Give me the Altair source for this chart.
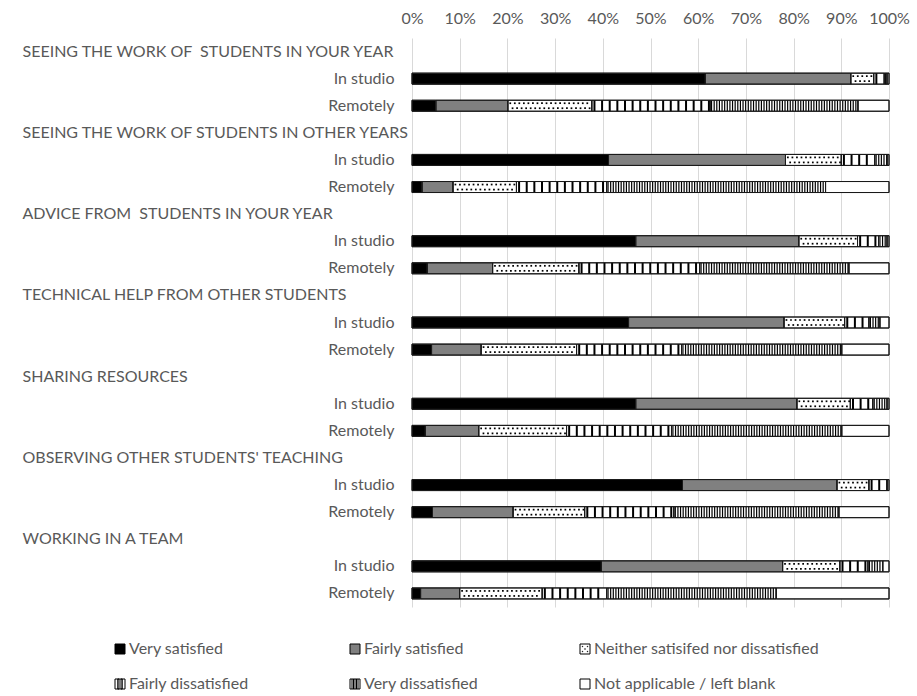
import altair as alt
import pandas as pd

groups = [
    "SEEING THE WORK OF  STUDENTS IN YOUR YEAR",
    "SEEING THE WORK OF STUDENTS IN OTHER YEARS",
    "ADVICE FROM  STUDENTS IN YOUR YEAR",
    "TECHNICAL HELP FROM OTHER STUDENTS",
    "SHARING RESOURCES",
    "OBSERVING OTHER STUDENTS' TEACHING",
    "WORKING IN A TEAM",
]
modes = ["In studio", "Remotely"]
levels = [
    "Very satisfied",
    "Fairly satisfied",
    "Neither satisifed nor dissatisfied",
    "Fairly dissatisfied",
    "Very dissatisfied",
    "Not applicable / left blank",
]
# one value per bar: group 1 In studio, group 1 Remotely, group 2 In studio, ...
very_satisfied = [61.5, 5.0, 41.2, 2.1, 46.9, 3.2, 45.4, 4.1, 46.9, 2.8, 56.7, 4.3, 39.7, 1.8]
fairly_satisfied = [30.5, 15.1, 37.1, 6.5, 34.2, 13.7, 32.6, 10.4, 33.8, 11.2, 32.4, 16.9, 38.0, 8.2]
neither = [4.8, 17.6, 11.7, 13.3, 12.3, 18.1, 12.7, 20.0, 11.2, 18.4, 6.7, 15.0, 12.0, 17.3]
fairly_dissatisfied = [2.2, 24.8, 7.0, 18.9, 4.4, 25.3, 5.1, 22.0, 4.7, 22.0, 3.8, 18.7, 5.9, 13.5]
very_dissatisfied = [0.6, 31.0, 2.6, 45.9, 1.8, 31.3, 2.3, 33.6, 3.0, 35.7, 0.0, 34.6, 3.1, 35.6]
not_applicable = [0.4, 6.5, 0.4, 13.3, 0.4, 8.4, 1.9, 9.9, 0.4, 9.9, 0.4, 10.5, 1.3, 23.6]
x_ticks = [0, 10, 20, 30, 40, 50, 60, 70, 80, 90, 100]

series = [very_satisfied, fairly_satisfied, neither, fairly_dissatisfied, very_dissatisfied, not_applicable]

keys = []
rows = []
for g, name in enumerate(groups):
    keys.append(f"H{g}|{name}")
    for m, mode in enumerate(modes):
        key = f"B{g}|{mode}"
        keys.append(key)
        for li, lvl in enumerate(levels):
            rows.append({"key": key, "level": lvl, "lvl": li, "value": series[li][g * 2 + m]})
df = pd.DataFrame(rows)

TEXT = "#595959"
FONT = "Lato"
FS = 16
BAR = 11

y_enc = alt.Y(
    "key:N",
    scale=alt.Scale(domain=keys, paddingInner=0, paddingOuter=0),
    title=None,
    axis=alt.Axis(
        labelExpr="replace(split(datum.value, '|')[1], '  ', ' \u00a0')",
        labelAlign={"condition": {"test": "substring(datum.value,0,1)=='H'", "value": "left"}, "value": "right"},
        labelPadding={"condition": {"test": "substring(datum.value,0,1)=='H'", "value": 390}, "value": 18},
        labelFontSize=FS,
        labelColor=TEXT,
        labelFont=FONT,
        labelLimit=500,
        ticks=False,
        domain=False,
        grid=False,
    ),
)
x_enc = alt.X(
    "x0:Q",
    scale=alt.Scale(domain=[0, 100], nice=False, zero=True),
    title=None,
    axis=alt.Axis(
        orient="top",
        values=x_ticks,
        labelExpr="datum.value + '%'",
        labelFontSize=FS,
        labelColor=TEXT,
        labelFont=FONT,
        labelPadding=12,
        labelOverlap=False,
        labelFlush=False,
        ticks=False,
        domain=False,
        grid=True,
        gridColor="#d9d9d9",
        gridWidth=1,
    ),
)

fill_scale = alt.Scale(domain=levels, range=["#000000", "#808080", "#ffffff", "#ffffff", "#ffffff", "#ffffff"])

sq = "M-1,-1H1V1H-1Z"
shapes = [
    sq,
    sq,
    sq + "M-0.55,-0.55h0.1v0.1h-0.1Z M0.45,-0.55h0.1v0.1h-0.1Z M-0.05,-0.05h0.1v0.1h-0.1Z M-0.55,0.45h0.1v0.1h-0.1Z M0.45,0.45h0.1v0.1h-0.1Z",
    sq + "M-0.45,-1h0.25v2h-0.25Z M0.2,-1h0.25v2h-0.25Z",
    sq + "M-0.6,-1V1 M-0.3,-1V1 M0,-1V1 M0.3,-1V1 M0.6,-1V1",
    sq,
]
leg = alt.Legend(
    title=None,
    orient="none",
    legendX=-300,
    legendY=603,
    direction="horizontal",
    columns=3,
    gridAlign="each",
    columnPadding=98,
    rowPadding=19,
    symbolSize=100,
    symbolStrokeWidth=1,
    symbolStrokeColor="#000000",
    symbolOpacity=1,
    labelFontSize=FS,
    labelColor=TEXT,
    labelFont=FONT,
    labelOffset=1,
    labelLimit=400,
    padding=0,
)
# legend carrier: tiny points hidden behind wide bar segments
legend_layer = alt.Chart().transform_filter("datum.x1 - datum.x0 > 5").transform_calculate(
    mid="(datum.x0 + datum.x1) / 2"
).mark_point(filled=True, strokeWidth=1, opacity=1, size=9).encode(
    x=alt.X("mid:Q"), y=alt.Y("key:N"),
    shape=alt.Shape("level:N", scale=alt.Scale(domain=levels, range=shapes), legend=leg),
    fill=alt.Fill("level:N", scale=fill_scale, legend=leg),
    stroke=alt.Stroke("level:N", scale=alt.Scale(domain=levels, range=["#000000"] * 6), legend=leg),
)

bars = alt.Chart().mark_bar(size=BAR, stroke="#1a1a1a", strokeWidth=1).encode(
    x=x_enc, x2="x1:Q", y=y_enc,
    color=alt.Color("level:N", scale=fill_scale, legend=None),
)

fd = alt.Chart().transform_filter("datum.lvl == 3").transform_calculate(
    s="sequence(datum.x0 + 0.55, datum.x1 - 0.2, 1.6)"
).transform_flatten(["s"]).mark_tick(size=BAR, thickness=2, color="#000000", opacity=1).encode(
    x=alt.X("s:Q"), y=alt.Y("key:N"),
)

vd = alt.Chart().transform_filter("datum.lvl == 4").transform_calculate(
    s="sequence(datum.x0 + 0.3, datum.x1 - 0.1, 0.55)"
).transform_flatten(["s"]).mark_tick(size=BAR, thickness=1.2, color="#000000", opacity=1).encode(
    x=alt.X("s:Q"), y=alt.Y("key:N"),
)

dots1 = alt.Chart().transform_filter("datum.lvl == 2").transform_calculate(
    s="sequence(datum.x0 + 0.5, datum.x1 - 0.25, 0.95)"
).transform_flatten(["s"]).mark_square(size=3, color="#000000", opacity=1, yOffset=-2.5).encode(
    x=alt.X("s:Q"), y=alt.Y("key:N"),
)
dots2 = alt.Chart().transform_filter("datum.lvl == 2").transform_calculate(
    s="sequence(datum.x0 + 0.98, datum.x1 - 0.25, 0.95)"
).transform_flatten(["s"]).mark_square(size=3, color="#000000", opacity=1, yOffset=2.5).encode(
    x=alt.X("s:Q"), y=alt.Y("key:N"),
)

outline = alt.Chart().mark_bar(size=BAR, fillOpacity=0, stroke="#1a1a1a", strokeWidth=1).encode(
    x=alt.X("x0:Q"), x2="x1:Q", y=alt.Y("key:N"),
)

chart = alt.layer(legend_layer, bars, fd, vd, dots1, dots2, outline, data=df).transform_stack(
    stack="value", groupby=["key"], as_=["x0", "x1"], sort=[alt.SortField("lvl", order="ascending")]
).properties(
    width=477,
    height=569,
    autosize=alt.AutoSizeParams(type="none"),
    padding={"left": 412, "top": 38, "right": 28, "bottom": 89},
    background="#ffffff",
).configure_view(stroke=None)

chart.save("out.html", embed_options={"renderer": "svg", "actions": False})
